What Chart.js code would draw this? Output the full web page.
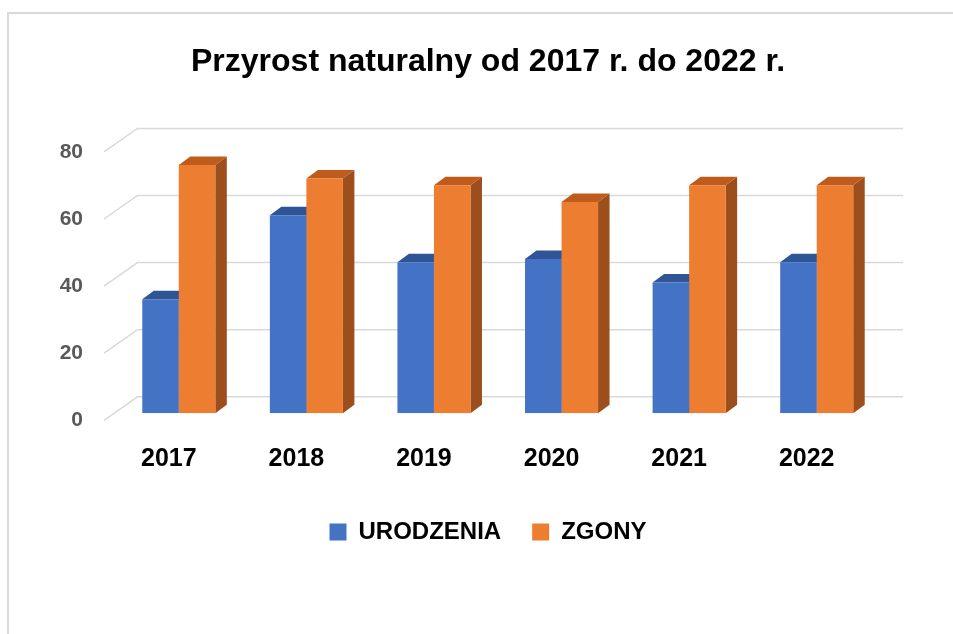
<!DOCTYPE html>
<html><head><meta charset="utf-8">
<script src="https://cdn.jsdelivr.net/npm/chart.js@4.4.0/dist/chart.umd.min.js"></script>
<style>
html,body{margin:0;padding:0;background:#fff;overflow:hidden;width:953px;height:634px;}
#wrap{position:absolute;left:8px;top:13px;width:960px;height:621px;}
.bl{position:absolute;background:#d9d9d9;}
</style></head><body>
<div id="wrap"><canvas id="c" width="960" height="621"></canvas></div>
<div class="bl" style="left:7px;top:12px;width:946px;height:2px"></div>
<div class="bl" style="left:7px;top:12px;width:2px;height:622px"></div>
<script>
const categories = ['2017', '2018', '2019', '2020', '2021', '2022'];
const urodzenia = [34, 59, 45, 46, 39, 45];
const zgony = [74, 70, 68, 63, 68, 68];
const yTicks = [0, 20, 40, 60, 80];
const seriesNames = ['URODZENIA', 'ZGONY'];
const titleText = 'Przyrost naturalny od 2017 r. do 2022 r.';

const FONT = "'Liberation Sans', Arial, sans-serif";
const faceColors = [
  { front: '#4472C4', top: '#2F5597', side: '#2B4F8C' },
  { front: '#ED7D31', top: '#BF5B1B', side: '#9C4F1C' }
];
// oblique projection offsets (relative to bar front plane)
const BAR_DX = 11.5, BAR_DY = -8.5;
const WALL_DX = 22.5, WALL_DY = -16.5;
const FRONT_DX = -11, FRONT_DY = 7;

const threeD = {
  id: 'threeD',
  beforeDatasetsDraw(chart) {
    const { ctx, chartArea, scales } = chart;
    const y = scales.y;
    ctx.save();
    ctx.strokeStyle = '#d9d9d9';
    ctx.lineWidth = 1.5;
    yTicks.forEach(v => {
      const py = y.getPixelForValue(v);
      ctx.beginPath();
      ctx.moveTo(chartArea.left + FRONT_DX, py + FRONT_DY);
      ctx.lineTo(chartArea.left + WALL_DX, py + WALL_DY);
      ctx.lineTo(chartArea.right + WALL_DX, py + WALL_DY);
      ctx.stroke();
    });
    chart.data.datasets.forEach((ds, di) => {
      const meta = chart.getDatasetMeta(di);
      const col = faceColors[di];
      meta.data.forEach(bar => {
        const p = bar.getProps(['x', 'y', 'base', 'width'], true);
        const x0 = p.x - p.width / 2, x1 = p.x + p.width / 2;
        ctx.fillStyle = col.side;
        ctx.beginPath();
        ctx.moveTo(x1, p.y);
        ctx.lineTo(x1 + BAR_DX, p.y + BAR_DY);
        ctx.lineTo(x1 + BAR_DX, p.base + BAR_DY);
        ctx.lineTo(x1, p.base);
        ctx.closePath();
        ctx.fill();
        ctx.fillStyle = col.top;
        ctx.beginPath();
        ctx.moveTo(x0, p.y);
        ctx.lineTo(x0 + BAR_DX, p.y + BAR_DY);
        ctx.lineTo(x1 + BAR_DX, p.y + BAR_DY);
        ctx.lineTo(x1, p.y);
        ctx.closePath();
        ctx.fill();
      });
    });
    ctx.restore();
  }
};

new Chart(document.getElementById('c'), {
  type: 'bar',
  data: {
    labels: categories,
    datasets: [
      { label: seriesNames[0], data: urodzenia, backgroundColor: faceColors[0].front, borderWidth: 0 },
      { label: seriesNames[1], data: zgony, backgroundColor: faceColors[1].front, borderWidth: 0 }
    ]
  },
  options: {
    responsive: false,
    animation: false,
    events: [],
    layout: { padding: { left: 0, right: 0, top: 0, bottom: 80 } },
    datasets: { bar: { categoryPercentage: 0.5725, barPercentage: 1.0 } },
    scales: {
      x: {
        grid: { display: false, drawTicks: false },
        border: { display: false },
        ticks: { color: '#000', font: { family: FONT, size: 25, weight: 'bold' }, padding: 31, labelOffset: -10, maxRotation: 0 },
        afterFit: s => { s.height = 75.7; }
      },
      y: {
        min: 0, max: 80,
        grid: { display: false, drawTicks: false },
        border: { display: false },
        ticks: { stepSize: 20, color: '#595959', font: { family: FONT, size: 21, weight: 'bold' }, padding: 32, labelOffset: 7 },
        afterFit: s => { s.width = 107; }
      },
      yR: {
        position: 'right',
        display: true,
        grid: { display: false, drawTicks: false },
        border: { display: false },
        ticks: { display: false },
        afterFit: s => { s.width = 87.5; }
      }
    },
    plugins: {
      title: {
        display: true,
        text: titleText,
        color: '#000',
        font: { family: FONT, size: 32, weight: 'bold' },
        padding: { top: 30, bottom: 63.5 }
      },
      legend: {
        position: 'bottom',
        labels: { color: '#000', font: { family: FONT, size: 24, weight: 'bold' }, boxWidth: 17, boxHeight: 17, padding: 31 }
      },
      tooltip: { enabled: false }
    }
  },
  plugins: [threeD]
});
</script>
</body></html>
